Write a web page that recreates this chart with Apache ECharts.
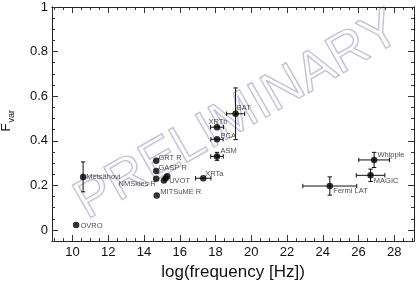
<!DOCTYPE html>
<html>
<head>
<meta charset="utf-8">
<script src="https://cdn.jsdelivr.net/npm/echarts@6/dist/echarts.min.js"></script>
<style>
html,body{margin:0;padding:0;background:#fff;}
#chart{width:416px;height:286px;}
</style>
</head>
<body>
<div id="chart"></div>
<script>
// ---- data ----
const names      = ['OVRO','Metsähovi','GRT R','GASP R','NMSkies R','UVOT','','','MITSuME R','XRTa','ASM','PCA','XRTb','BAT','Fermi LAT','MAGIC','Whipple'];
const logFreq    = [10.2, 10.59, 14.68, 14.68, 14.68, 15.11, 15.21, 15.30, 14.71, 17.31, 18.08, 18.08, 18.08, 19.12, 24.39, 26.67, 26.87];
const fvar       = [0.022, 0.238, 0.310, 0.264, 0.230, 0.222, 0.232, 0.241, 0.154, 0.232, 0.330, 0.407, 0.461, 0.521, 0.197, 0.245, 0.314];
const logFreqErr = [0, 0, 0, 0, 0, 0, 0, 0, 0, 0.43, 0.35, 0.34, 0.36, 0.51, 1.51, 0.80, 0.86];
const fvarErr    = [0, 0.067, 0, 0, 0, 0, 0, 0, 0, 0, 0.018, 0, 0, 0.116, 0.041, 0.028, 0.034];
const xTickLabels = ['10','12','14','16','18','20','22','24','26','28'];
const yTickLabels = ['0','0.2','0.4','0.6','0.8','1'];

// label placement (style, not data)
const labelPlace = {
  'OVRO':[ 'right', [1,0.5] ],
  'Metsähovi':[ 'right', [0,0] ],
  'GRT R':[ 'right', [-1,-3] ],
  'GASP R':[ 'right', [-1,-3] ],
  'NMSkies R':[ 'left', [3,5.3] ],
  'UVOT':[ 'right', [2,0.5] ],
  'MITSuME R':[ 'right', [0.3,-3.7] ],
  'XRTa':[ 'right', [-1.3,-4.6] ],
  'ASM':[ 'right', [0.3,-5.3] ],
  'PCA':[ 'right', [0.3,-3] ],
  'XRTb':[ 'top', [1,2.2] ],
  'BAT':[ 'right', [-2,-5.7] ],
  'Fermi LAT':[ 'right', [0.3,5] ],
  'MAGIC':[ 'right', [0,6] ],
  'Whipple':[ 'right', [0,-5.4] ]
};

const FONT = 'Liberation Sans, Arial, Helvetica, sans-serif';
const XMIN = 8.85, XMAX = 29.1, YMIN = -0.05, YMAX = 1;

function xAxisDef(pos, major, labels){
  return {
    type:'value', position:pos, min:XMIN, max:XMAX, splitNumber: major?10:40,
    axisLine:{show:true, onZero:false, lineStyle:{color:'#222', width:1}},
    axisTick:{show:true, inside:true, length: major?6:3, lineStyle:{color:'#333', width:1}},
    axisLabel:{show:labels, showMinLabel:false, showMaxLabel:false, margin:5,
      color:'#111', fontSize:13, fontFamily:FONT,
      formatter: v => { const s = String(Math.round(v)); return xTickLabels.indexOf(s)>=0 && Math.abs(v-Math.round(v))<1e-6 ? s : ''; }},
    splitLine:{show:false}
  };
}
function yAxisDef(pos, major, labels){
  return {
    type:'value', position:pos, min:YMIN, max:YMAX, splitNumber: major?5:20,
    axisLine:{show:true, onZero:false, lineStyle:{color:'#222', width:1}},
    axisTick:{show:true, inside:true, length: major?6:3, lineStyle:{color:'#333', width:1}},
    axisLabel:{show:labels, showMinLabel:false, margin:4,
      color:'#111', fontSize:13, fontFamily:FONT,
      formatter: v => { const s = String(Math.round(v*10)/10); return yTickLabels.indexOf(s)>=0 ? s : ''; }},
    splitLine:{show:false}
  };
}

const errData = logFreq.map((x,i)=>[x, fvar[i], logFreqErr[i], fvarErr[i]]);
const ptData = logFreq.map((x,i)=>{
  const nm = names[i];
  const lp = labelPlace[nm];
  const item = {value:[x, fvar[i]], name:nm};
  if (lp) {
    item.label = {show:true, position:lp[0], offset:lp[1], distance:0,
      formatter: nm, fontSize:7.5, fontFamily:FONT, color:'#222'};
  } else {
    item.label = {show:false};
  }
  return item;
});

const chart = echarts.init(document.getElementById('chart'), null, {renderer:'canvas'});
chart.setOption({
  animation:false,
  backgroundColor:'#fff',
  grid:{left:52, right:2, top:7, bottom:41, containLabel:false},
  xAxis:[
    Object.assign(xAxisDef('bottom', true, true), {
      name:'log(frequency [Hz])', nameLocation:'middle', nameGap:20,
      nameTextStyle:{fontSize:17, fontFamily:FONT, color:'#111', verticalAlign:'top'}}),
    xAxisDef('bottom', false, false),
    xAxisDef('top', true, false),
    xAxisDef('top', false, false)
  ],
  yAxis:[
    yAxisDef('left', true, true),
    yAxisDef('left', false, false),
    yAxisDef('right', true, false),
    yAxisDef('right', false, false)
  ],
  graphic:[
    {type:'text', x:238, y:116, rotation:0.52, z:0,
      style:{text:'PRELIMINARY', fontSize:54, fontFamily:FONT, fill:'rgba(255,255,255,0)',
        stroke:'#c4c2da', lineWidth:1.4, align:'center', verticalAlign:'middle'}},
    {type:'text', x:6.7, y:131.5, rotation:Math.PI/2,
      style:{text:'F', fontSize:13, fontFamily:FONT, fill:'#111', align:'left', verticalAlign:'middle'}},
    {type:'text', x:11.8, y:122.5, rotation:Math.PI/2,
      style:{text:'var', fontSize:9, fontFamily:FONT, fill:'#111', align:'left', verticalAlign:'middle'}}
  ],
  series:[
    {
      type:'custom', xAxisIndex:0, yAxisIndex:0, z:3, silent:true,
      data: errData,
      renderItem: function(params, api){
        const x = api.value(0), y = api.value(1), ex = api.value(2), ey = api.value(3);
        const c = api.coord([x,y]);
        const children = [];
        const st = {stroke:'#111', lineWidth:1};
        const cap = 2.2;
        if (ex > 0){
          const l = api.coord([x-ex, y]), r = api.coord([x+ex, y]);
          children.push({type:'line', shape:{x1:l[0],y1:c[1],x2:r[0],y2:c[1]}, style:st});
          children.push({type:'line', shape:{x1:l[0],y1:c[1]-cap,x2:l[0],y2:c[1]+cap}, style:st});
          children.push({type:'line', shape:{x1:r[0],y1:c[1]-cap,x2:r[0],y2:c[1]+cap}, style:st});
        }
        if (ey > 0){
          const t = api.coord([x, y+ey]), b = api.coord([x, y-ey]);
          children.push({type:'line', shape:{x1:c[0],y1:t[1],x2:c[0],y2:b[1]}, style:st});
          children.push({type:'line', shape:{x1:c[0]-cap,y1:t[1],x2:c[0]+cap,y2:t[1]}, style:st});
          children.push({type:'line', shape:{x1:c[0]-cap,y1:b[1],x2:c[0]+cap,y2:b[1]}, style:st});
        }
        return {type:'group', children:children};
      }
    },
    {
      type:'scatter', xAxisIndex:0, yAxisIndex:0, z:4,
      symbol:'circle', symbolSize:6.5,
      itemStyle:{color:'#000'},
      data: ptData
    }
  ]
});
</script>
</body>
</html>
